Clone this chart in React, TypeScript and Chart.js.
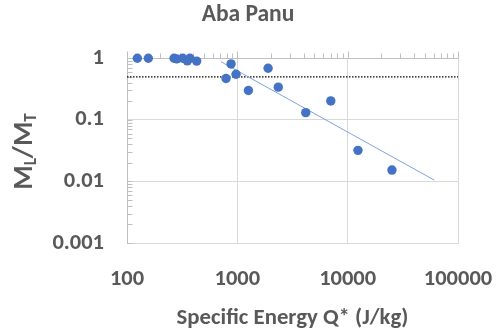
import React, { useEffect, useRef } from 'react';
import { Chart, registerables } from 'chart.js';

Chart.register(...registerables);

// ---- data ----
const energyQ = [124, 156, 267, 282, 320, 352, 372, 428, 790, 877, 973, 1260, 1900, 2350, 4170, 7030, 12400, 25200];
const massRatio = [1.0, 1.0, 1.0, 0.98, 1.0, 0.91, 1.0, 0.9, 0.47, 0.81, 0.55, 0.3, 0.69, 0.34, 0.131, 0.203, 0.032, 0.0153];
const trendX = [710, 61000];
const trendY = [0.88, 0.0105];
const thresholdX = [100, 100000];
const thresholdY = [0.5, 0.5];
const xTickValues = [100, 1000, 10000, 100000];
const yTickValues = [1, 0.1, 0.01, 0.001];
const chartTitle = 'Aba Panu';
const xAxisTitle = 'Specific Energy Q* (J/kg)';
const yTitleParts: [string, boolean][] = [['M', false], ['L', true], ['/', false], ['M', false], ['T', true]];

const FONT = 'Carlito, Lato, sans-serif';
const TEXT = '#595959';

const axisDecor = {
  id: 'axisDecor',
  beforeDatasetsDraw(chart: any) {
    const { ctx, chartArea } = chart;
    const x = chart.scales.x;
    const y = chart.scales.y;
    ctx.save();
    ctx.strokeStyle = '#BFBFBF';
    ctx.lineWidth = 1;
    const top = Math.round(y.getPixelForValue(1)) + 0.5;
    ctx.beginPath();
    ctx.moveTo(chartArea.left, top);
    ctx.lineTo(chartArea.right, top);
    for (let e = 2; e <= 5; e++) {
      for (let m = 1; m <= 9; m++) {
        const v = m * Math.pow(10, e);
        if (v > x.max * 1.0001) break;
        const px = Math.round(x.getPixelForValue(v)) + 0.5;
        ctx.moveTo(px, top);
        ctx.lineTo(px, top - (m === 1 ? 7 : 5));
      }
    }
    const left = Math.round(chartArea.left) + 0.5;
    for (let e = -3; e <= 0; e++) {
      for (let m = 1; m <= 9; m++) {
        const v = m * Math.pow(10, e);
        if (v > y.max * 1.0001) break;
        const py = Math.round(y.getPixelForValue(v)) + 0.5;
        ctx.moveTo(left, py);
        ctx.lineTo(left + 5, py);
      }
    }
    ctx.stroke();
    ctx.restore();
  },
};

const yTitlePlugin = {
  id: 'yTitle',
  afterDraw(chart: any) {
    const { ctx } = chart;
    const big = `bold 28px ${FONT}`;
    const small = `bold 17px ${FONT}`;
    ctx.save();
    let total = 0;
    for (const [t, sub] of yTitleParts) {
      ctx.font = sub ? small : big;
      total += ctx.measureText(t).width;
    }
    ctx.translate(32, 151.5);
    ctx.rotate(-Math.PI / 2);
    ctx.fillStyle = TEXT;
    ctx.textAlign = 'left';
    ctx.textBaseline = 'alphabetic';
    let xx = -total / 2;
    for (const [t, sub] of yTitleParts) {
      ctx.font = sub ? small : big;
      ctx.fillText(t, xx, sub ? 4 : 0);
      xx += ctx.measureText(t).width;
    }
    ctx.restore();
  },
};

export default function App() {
  const ref = useRef<HTMLCanvasElement | null>(null);
  useEffect(() => {
    if (!ref.current) return;
    const chart = new Chart(ref.current, {
      type: 'scatter',
      data: {
        datasets: [
          {
            label: 'data',
            data: energyQ.map((q, i) => ({ x: q, y: massRatio[i] })),
            backgroundColor: '#4472C4',
            borderWidth: 0,
            pointRadius: 4.7,
            clip: false,
          },
          {
            label: 'trend',
            data: trendX.map((q, i) => ({ x: q, y: trendY[i] })),
            showLine: true,
            borderColor: '#7FA2DE',
            borderWidth: 1,
            pointRadius: 0,
          },
          {
            label: 'threshold',
            data: thresholdX.map((q, i) => ({ x: q, y: thresholdY[i] })),
            showLine: true,
            borderColor: '#000000',
            borderWidth: 1.3,
            borderDash: [1.5, 1.5],
            pointRadius: 0,
          },
        ],
      },
      options: {
        animation: false,
        responsive: true,
        maintainAspectRatio: false,
        layout: { padding: { left: 0, right: 0, top: 0, bottom: 0 } },
        plugins: {
          legend: { display: false },
          tooltip: { enabled: false },
          title: {
            display: true,
            text: chartTitle,
            color: TEXT,
            font: { family: FONT, size: 23.5, weight: 'bold', lineHeight: 1.2 },
            padding: { top: 0.6, bottom: 29.5 },
          },
        },
        scales: {
          x: {
            type: 'logarithmic',
            min: 100,
            max: 100000,
            position: 'bottom',
            afterBuildTicks: (s: any) => {
              s.ticks = xTickValues.map((v) => ({ value: v }));
            },
            afterFit: (s: any) => {
              s.height = 90;
              s.paddingLeft = 0;
              s.paddingRight = 0;
            },
            ticks: {
              autoSkip: false,
              maxRotation: 0,
              color: TEXT,
              font: { family: FONT, size: 22.5, weight: 'bold' },
              padding: 23,
              callback: (v: any) => String(v),
            },
            grid: { color: '#D9D9D9', drawTicks: false },
            border: { color: '#D9D9D9' },
            title: {
              display: true,
              text: xAxisTitle,
              color: TEXT,
              font: { family: FONT, size: 22.8, weight: 'bold', lineHeight: 1.2 },
              padding: { top: 0, bottom: 1.5 },
            },
          },
          y: {
            type: 'logarithmic',
            min: 0.001,
            max: 1,
            afterBuildTicks: (s: any) => {
              s.ticks = yTickValues.map((v) => ({ value: v }));
            },
            afterFit: (s: any) => {
              s.width = 127;
              s.paddingTop = 0;
              s.paddingBottom = 0;
            },
            ticks: {
              autoSkip: false,
              color: TEXT,
              font: { family: FONT, size: 22.5, weight: 'bold' },
              padding: 23,
              callback: (v: any) => String(v),
            },
            grid: { color: '#D9D9D9', drawTicks: false },
            border: { color: '#BFBFBF' },
          },
          rightSpace: {
            type: 'linear',
            position: 'right',
            display: true,
            ticks: { display: false },
            grid: { display: false, drawTicks: false },
            border: { display: false },
            afterFit: (s: any) => {
              s.width = 38;
              s.paddingTop = 0;
              s.paddingBottom = 0;
            },
          },
        },
      } as any,
      plugins: [axisDecor, yTitlePlugin],
    });
    return () => chart.destroy();
  }, []);
  return (
    <div style={{ position: 'absolute', left: 0, top: 0, width: 496, height: 333 }}>
      <canvas ref={ref} />
    </div>
  );
}
